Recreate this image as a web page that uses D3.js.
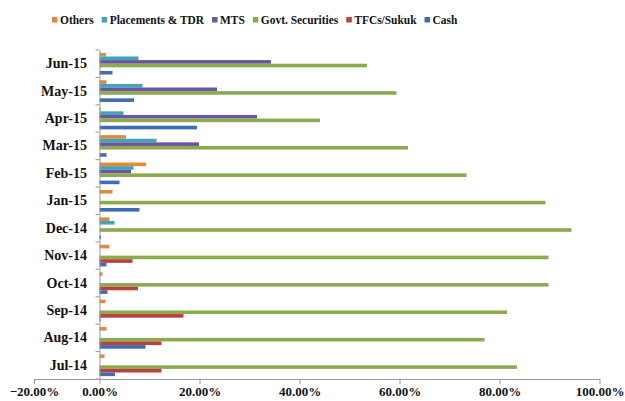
<!DOCTYPE html>
<html>
<head>
<meta charset="utf-8">
<script src="https://cdn.jsdelivr.net/npm/d3@7"></script>
<style>
  html, body { margin: 0; padding: 0; background: #fff; }
  svg { display: block; }
  text { font-family: "Liberation Serif", "Times New Roman", serif; font-weight: bold; fill: #111; }
</style>
</head>
<body>
<svg id="chart" width="625" height="401"></svg>
<script>
// Months, bottom to top as listed
const months = ["Jul-14", "Aug-14", "Sep-14", "Oct-14", "Nov-14", "Dec-14",
                "Jan-15", "Feb-15", "Mar-15", "Apr-15", "May-15", "Jun-15"];

// Asset allocation shares (%) per month, same order as months
const others      = [1.0, 1.4, 1.2, 0.6, 2.0, 2.0, 2.6, 9.3, 5.3, 0.2, 1.4, 1.3];
const placements  = [0, 0, 0, 0, 0, 3.0, 0, 6.8, 11.4, 4.8, 8.6, 7.8];
const mts         = [0, 0, 0, 0, 0, 0, 0, 6.3, 19.9, 31.5, 23.5, 34.3];
const govtSec     = [83.5, 77.0, 81.5, 89.8, 89.8, 94.4, 89.2, 73.4, 61.7, 44.1, 59.4, 53.5];
const tfcSukuk    = [12.4, 12.4, 16.8, 7.7, 6.6, 0, 0, 0, 0, 0, 0, 0];
const cash        = [3.1, 9.2, 0.2, 1.6, 1.4, 0.3, 8.0, 4.0, 1.4, 19.5, 6.9, 2.6];

const seriesNames = ["Others", "Placements & TDR", "MTS", "Govt. Securities", "TFCs/Sukuk", "Cash"];
const seriesValues = [others, placements, mts, govtSec, tfcSukuk, cash];
const seriesColors = ["#E3893B", "#3FA6B9", "#6A55A0", "#8EAA4F", "#B8413F", "#3F6DB5"];

const xTicks = [-0.2, 0, 0.2, 0.4, 0.6, 0.8, 1.0];

const svg = d3.select("#chart");

// Horizontal value scale (the negative side of the axis is drawn compressed)
const x = d3.scaleLinear().domain([-0.2, 0, 1.0]).range([34, 99.5, 599.5]);

// Category bands, latest month on top
const y = d3.scaleBand()
  .domain(months.slice().reverse())
  .range([50, 379])
  .paddingInner(0)
  .paddingOuter(0);

const ySub = d3.scaleBand()
  .domain(seriesNames)
  .range([0, y.bandwidth()])
  .paddingInner(0)
  .paddingOuter(0.8);

// Bars
const groups = svg.append("g").selectAll("g")
  .data(months)
  .join("g")
  .attr("transform", d => `translate(0,${y(d)})`);

groups.selectAll("rect")
  .data((m, i) => seriesNames.map((s, k) => ({ s, k, v: seriesValues[k][i] / 100 })))
  .join("rect")
  .attr("x", d => x(0))
  .attr("y", d => ySub(d.s))
  .attr("width", d => Math.max(0, x(d.v) - x(0)))
  .attr("height", ySub.bandwidth())
  .attr("fill", d => seriesColors[d.k]);

// X axis
const xAxis = svg.append("g")
  .attr("transform", "translate(0,379)")
  .call(d3.axisBottom(x).tickValues(xTicks).tickFormat(d3.format(".2%")).tickSizeInner(5).tickSizeOuter(0).tickPadding(3));
xAxis.select(".domain").attr("stroke", "#9a9a9a");
xAxis.selectAll(".tick line").attr("stroke", "#9a9a9a");
xAxis.selectAll(".tick text").style("font-size", "13px").style("font-family", "Liberation Serif").attr("fill", "#111");

// Y axis line, labels and boundary ticks
const yAxis = svg.append("g")
  .attr("transform", `translate(${x(0)},0)`)
  .call(d3.axisLeft(y).tickSize(0).tickPadding(12.5));
yAxis.select(".domain").attr("stroke", "#9a9a9a");
yAxis.selectAll(".tick text").style("font-size", "14px").style("font-family", "Liberation Serif").attr("fill", "#111");

const bounds = months.map(m => y(m)).concat([y.range()[1]]);
svg.append("g").selectAll("line")
  .data(bounds)
  .join("line")
  .attr("x1", x(0) - 4).attr("x2", x(0))
  .attr("y1", d => d).attr("y2", d => d)
  .attr("stroke", "#9a9a9a");

// Legend (text set slightly condensed)
const squeeze = 0.88;
const legend = svg.append("g").attr("transform", "translate(52,0)");
let lx = 0;
seriesNames.forEach((name, k) => {
  const g = legend.append("g").attr("transform", `translate(${lx},0)`);
  g.append("rect").attr("x", 0).attr("y", 17).attr("width", 5.5).attr("height", 5.5).attr("fill", seriesColors[k]);
  const t = g.append("text")
    .attr("transform", `translate(8,24) scale(${squeeze},1)`)
    .style("font-family", "Liberation Serif")
    .style("font-weight", "bold")
    .style("font-size", "13px")
    .text(name);
  lx += 8 + t.node().getComputedTextLength() * squeeze + 8;
});
</script>
</body>
</html>
